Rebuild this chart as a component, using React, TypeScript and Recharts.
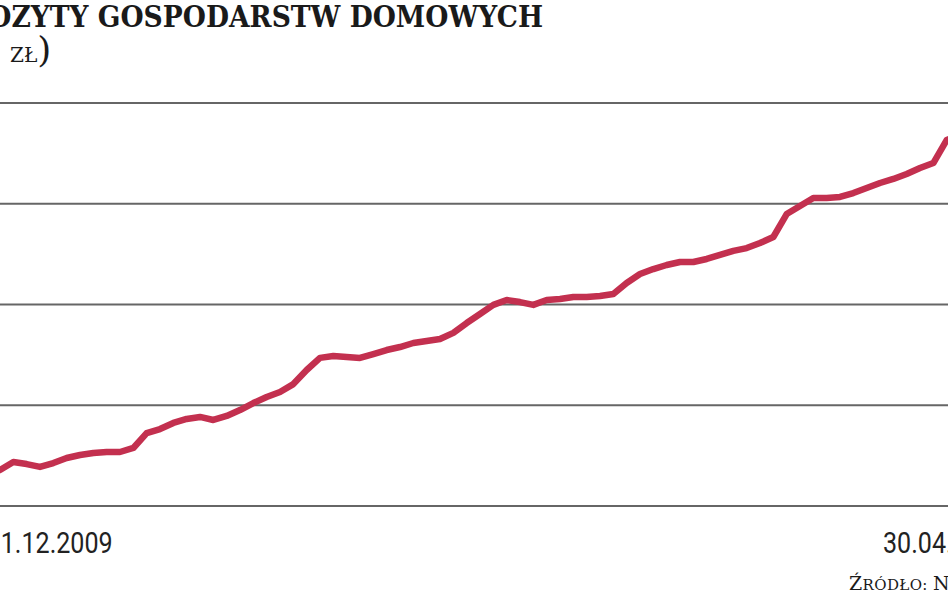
import React from "react";
import { LineChart, Line, XAxis, YAxis, CartesianGrid } from "recharts";

const months = [
  "2009-12",
  "2010-01", "2010-02", "2010-03", "2010-04", "2010-05", "2010-06", "2010-07", "2010-08", "2010-09", "2010-10", "2010-11", "2010-12",
  "2011-01", "2011-02", "2011-03", "2011-04", "2011-05", "2011-06", "2011-07", "2011-08", "2011-09", "2011-10", "2011-11", "2011-12",
  "2012-01", "2012-02", "2012-03", "2012-04", "2012-05", "2012-06", "2012-07", "2012-08", "2012-09", "2012-10", "2012-11", "2012-12",
  "2013-01", "2013-02", "2013-03", "2013-04", "2013-05", "2013-06", "2013-07", "2013-08", "2013-09", "2013-10", "2013-11", "2013-12",
  "2014-01", "2014-02", "2014-03", "2014-04", "2014-05", "2014-06", "2014-07", "2014-08", "2014-09", "2014-10", "2014-11", "2014-12",
  "2015-01", "2015-02", "2015-03", "2015-04", "2015-05", "2015-06", "2015-07", "2015-08", "2015-09", "2015-10", "2015-11", "2015-12",
  "2016-01", "2016-02", "2016-03", "2016-04",
];

const deposits = [
  414.4, 417.9, 421.8, 420.8, 419.4, 421.3, 423.8, 425.3, 426.3, 426.8,
  426.8, 428.8, 436.2, 438.2, 441.2, 443.2, 444.2, 442.7, 444.7, 447.6,
  451.1, 454.1, 456.6, 460.5, 467.5, 473.5, 474.4, 473.9, 473.5, 475.4,
  477.4, 478.9, 480.9, 481.9, 482.9, 485.9, 490.8, 495.3, 499.8, 502.2,
  501.2, 499.8, 502.2, 502.7, 503.7, 503.7, 504.2, 505.2, 510.7, 515.1,
  517.6, 519.6, 521.1, 521.1, 522.6, 524.6, 526.6, 528.0, 530.5, 533.5,
  544.9, 548.9, 552.9, 552.9, 553.4, 555.3, 557.8, 560.3, 562.3, 564.8,
  567.7, 570.2, 581.6, 584.1, 587.6, 590.6, 594.1,
];

const yTicks = [400, 450, 500, 550, 600];
const tickLabels = ["31.12.2009", "30.04.2016"];
const title = "DEPOZYTY GOSPODARSTW DOMOWYCH";
const unitA = "MLD";
const unitB = "ZŁ";

const data = months.map((m, i) => ({ month: m, value: deposits[i] }));

const DateTick = (props: any) => {
  const { x, y, payload } = props;
  const isFirst = payload.value === months[0];
  const label = isFirst ? tickLabels[0] : tickLabels[1];
  return (
    <text
      x={isFirst ? x : x + 9}
      y={y}
      dy={47}
      textAnchor={isFirst ? "start" : "end"}
      fontFamily="Roboto, sans-serif"
      fontSize={30}
      fill="#222"
      textLength={126}
      lengthAdjust="spacingAndGlyphs"
    >
      {label}
    </text>
  );
};

export default function App() {
  return (
    <div
      style={{
        position: "fixed",
        left: 0,
        top: 0,
        width: 948,
        height: 593,
        overflow: "hidden",
        background: "#fff",
      }}
    >
      <div style={{ position: "absolute", left: -60, top: 0 }}>
        <LineChart
          width={1120}
          height={593}
          data={data}
          margin={{ top: 103, right: 60, bottom: 47, left: 46.67 }}
        >
          <CartesianGrid vertical={false} stroke="#666" strokeWidth={2} />
          <YAxis hide domain={[400, 600]} ticks={yTicks} />
          <XAxis
            dataKey="month"
            ticks={[months[0], months[months.length - 1]]}
            interval={0}
            height={40}
            axisLine={false}
            tickLine={false}
            tickSize={0}
            tickMargin={0}
            tick={<DateTick />}
          />
          <Line
            type="linear"
            dataKey="value"
            stroke="#c3304f"
            strokeWidth={6.5}
            dot={false}
            strokeLinejoin="round"
            isAnimationActive={false}
          />
        </LineChart>
      </div>
      <svg
        width={948}
        height={593}
        style={{ position: "absolute", left: 0, top: 0, pointerEvents: "none" }}
      >
        <text
          x={-75}
          y={27}
          fontFamily="'DejaVu Serif', serif"
          fontWeight="bold"
          fontSize={29}
          fill="#1a1a1a"
          textLength={618}
          lengthAdjust="spacingAndGlyphs"
        >
          {title}
        </text>
        <text
          x={-4}
          y={62}
          textAnchor="end"
          fontFamily="'DejaVu Serif', serif"
          fill="#1a1a1a"
        >
          <tspan fontSize={36} fontWeight={300}>(</tspan>
          <tspan fontSize={20}>{unitA}</tspan>
        </text>
        <text
          x={10}
          y={62}
          fontFamily="'DejaVu Serif', serif"
          fill="#1a1a1a"
        >
          <tspan fontSize={20}>{unitB}</tspan>
          <tspan fontSize={36} fontWeight={300}>)</tspan>
        </text>
        <text
          x={849}
          y={590}
          fontFamily="'DejaVu Serif', serif"
          fill="#1a1a1a"
          textLength={128}
          lengthAdjust="spacing"
        >
          <tspan fontSize={19}>Ź</tspan>
          <tspan fontSize={15}>RÓDŁO: </tspan>
          <tspan fontSize={19}>NBP</tspan>
        </text>
      </svg>
    </div>
  );
}
